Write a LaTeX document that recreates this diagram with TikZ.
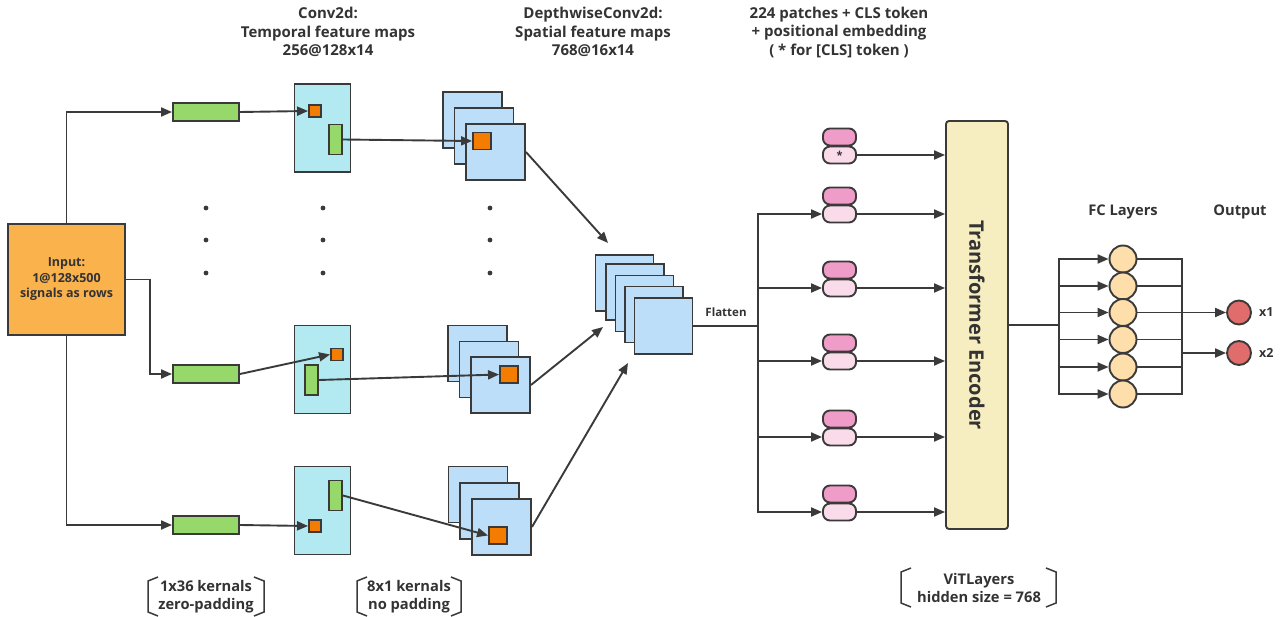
\documentclass[tikz,border=0pt]{standalone}
\usepackage{fontspec}
\setmainfont{Open Sans}
\usetikzlibrary{arrows.meta}
\definecolor{ln}{HTML}{3A3A3A}
\definecolor{txt}{HTML}{333333}
\definecolor{inor}{HTML}{FAB24C}
\definecolor{gbar}{HTML}{96D86A}
\definecolor{cmap}{HTML}{B3EAF2}
\definecolor{dmap}{HTML}{BDDEF8}
\definecolor{osq}{HTML}{F47C00}
\definecolor{tokp}{HTML}{F09CC8}
\definecolor{tokl}{HTML}{FADBEA}
\definecolor{tenc}{HTML}{F6EDC0}
\definecolor{fcc}{HTML}{FEDEAA}
\definecolor{outc}{HTML}{E06C6C}
\tikzset{
  box/.style={draw=ln, line width=1.9pt, inner sep=0pt},
  inbox/.style={box, fill=inor, minimum width=117pt, minimum height=111pt, text=txt, align=center,
     font=\bfseries\fontsize{12.5}{15.5}\selectfont},
  greenbar/.style={box, fill=gbar, minimum width=66pt, minimum height=18pt},
  vbar/.style={box, fill=gbar, minimum width=13pt, minimum height=30pt},
  cmapbox/.style={box, fill=cmap, minimum width=56pt, minimum height=88pt},
  dmapbox/.style={box, fill=dmap, minimum width=59pt, minimum height=56pt},
  smallsq/.style={box, fill=osq, minimum width=12pt, minimum height=12pt},
  bigsq/.style={box, fill=osq, minimum width=18pt, minimum height=17pt},
  tokpink/.style={box, fill=tokp, minimum width=33pt, minimum height=17pt, rounded corners=7pt},
  toklight/.style={box, fill=tokl, minimum width=33pt, minimum height=17pt, rounded corners=7pt,
     font=\bfseries\fontsize{11}{11}\selectfont, text=txt},
  encbox/.style={box, fill=tenc, minimum width=62pt, minimum height=408pt, rounded corners=3pt},
  fcnode/.style={box, circle, fill=fcc, minimum size=27pt},
  outnode/.style={box, circle, fill=outc, minimum size=24pt},
  conn/.style={draw=ln, line width=1.9pt},
  arr/.style={conn, -{Triangle[length=11pt,width=9pt]}},
  lab/.style={text=txt, align=center, inner sep=0pt, font=\bfseries\fontsize{15}{18.5}\selectfont},
  blab/.style={text=txt, align=center, inner sep=0pt, font=\bfseries\fontsize{14.7}{18}\selectfont},
  smalllab/.style={text=txt, align=center, inner sep=0pt, font=\bfseries\fontsize{12.5}{15}\selectfont},
  brk/.style={draw=ln, line width=1.5pt},
  dot/.style={fill=ln}
}
\begin{document}
\begin{tikzpicture}[x=1pt,y=-1pt]
\useasboundingbox (0,0) rectangle (1284,617);

% top labels
\node[lab] (l1) at (328,32) {Conv2d:\\Temporal feature maps\\256@128x14};
\node[lab] (l2) at (593,32) {DepthwiseConv2d:\\Spatial feature maps\\768@16x14};
\node[lab] (l3) at (839,32) {224 patches + CLS token\\+ positional embedding\\( * for [CLS] token )};

% input
\node[inbox] (in) at (66.5,279.5) {Input:\\1@128x500\\signals as rows};

% green bars
\node[greenbar] (g1) at (206,112) {};
\node[greenbar] (g2) at (206,374) {};
\node[greenbar] (g3) at (206,525) {};

% conv maps
\node[cmapbox] (m1) at (322.5,128) {};
\node[cmapbox] (m2) at (322.5,369.5) {};
\node[cmapbox] (m3) at (322.5,510.5) {};
\node[smallsq] (q1) at (315,111) {};
\node[smallsq] (q2) at (337,354.5) {};
\node[smallsq] (q3) at (315,526) {};
\node[vbar] (v1) at (335.5,139.5) {};
\node[vbar] (v2) at (311.5,380) {};
\node[vbar] (v3) at (335.5,495.5) {};

% depthwise stacks
\node[dmapbox] (a1) at (472.5,120) {};
\node[dmapbox] (a2) at (484,136) {};
\node[dmapbox] (a3) at (495.5,152) {};
\node[bigsq] (ao) at (482,141) {};
\node[dmapbox] (b1) at (477.5,353.5) {};
\node[dmapbox] (b2) at (489,369.5) {};
\node[dmapbox] (b3) at (500.5,385) {};
\node[bigsq] (bo) at (509,374.5) {};
\node[dmapbox] (c1) at (478,494.5) {};
\node[dmapbox] (c2) at (489.5,511) {};
\node[dmapbox] (c3) at (501.5,527) {};
\node[bigsq] (co) at (498,535.5) {};

% dots
\foreach \x in {206,323,490}{
  \foreach \y in {208,240,273}{
    \fill[dot] (\x,\y) circle (2.4pt);
  }
}

% center stack
\node[dmapbox, minimum width=58pt] (s1) at (624.5,283) {};
\node[dmapbox, minimum width=58pt] (s2) at (635,292) {};
\node[dmapbox, minimum width=58pt] (s3) at (644.5,303.5) {};
\node[dmapbox, minimum width=58pt] (s4) at (654,314.5) {};
\node[dmapbox, minimum width=58pt] (s5) at (663.5,326) {};
\node[text=txt, inner sep=0pt, font=\bfseries\fontsize{11.5}{11.5}\selectfont] (fl) at (726,312) {Flatten};

% input connectors
\draw[arr] (in.north) |- (g1.west);
\draw[arr] (in.east) -- ++(24,0) |- (g2.west);
\draw[arr] (in.south) |- (g3.west);

% bar -> map
\draw[arr] (g1.east) -- (q1.west);
\draw[arr] (g2.east) -- (q2.west);
\draw[arr] (g3.east) -- (q3.west);

% map -> depthwise
\draw[arr] (v1.east) -- (ao.west);
\draw[arr] (v2.east) -- (bo.west);
\draw[arr] (v3.east) -- (co.west);

% stacks -> center
\coordinate (t1) at (608,243);
\coordinate (t2) at (603,327);
\coordinate (t3) at (628,363);
\draw[arr] (a3.east) -- (t1);
\draw[arr] (b3.east) -- (t2);
\draw[arr] (c3.east) -- (t3);

% tokens
\node[encbox] (tr) at (977,325) {};
\node[rotate=-90, text=txt, inner sep=0pt, font=\bfseries\fontsize{20}{20}\selectfont] (trt) at (tr.center) {Transformer Encoder};

\node[tokpink] (p1) at (839.5,137) {};
\node[toklight] (k1) at (839.5,155) {*};
\foreach \i/\c in {2/214,3/288,4/361,5/437,6/512}{
  \node[tokpink] (p\i) at (839.5,\c-18) {};
  \node[toklight] (k\i) at (839.5,\c) {};
}
\coordinate (b0) at (758,326);
\draw[conn] (s5.east) -- (b0);
\foreach \i in {2,...,6}{
  \draw[arr] (b0) |- (k\i.west);
}
\foreach \i in {1,...,6}{
  \draw[arr] (k\i.east) -- (k\i.east -| tr.west);
}

% FC layers
\node[blab] (fcl) at (1123,212) {FC Layers};
\node[blab] (outl) at (1240,212) {Output};
\foreach \i/\y in {1/259,2/286,3/312.5,4/339.5,5/367,6/394}{
  \node[fcnode] (f\i) at (1123,\y) {};
}
\coordinate (f0) at (1059,325);
\draw[conn] (tr.east) -- (f0);
\foreach \i in {1,...,6}{
  \draw[arr] (f0) |- (f\i.west);
}
\coordinate (r0) at (1182,312.5);
\foreach \i in {1,...,6}{
  \draw[conn] (f\i.east) -| (r0);
}
\node[outnode] (o1) at (1239,312.5) {};
\node[outnode] (o2) at (1239,353) {};
\draw[arr] (r0) -- (o1.west);
\draw[arr] (r0) |- (o2.west);
\node[smalllab, anchor=west] (x1) at (1259,312.5) {x1};
\node[smalllab, anchor=west] (x2) at (1259,353) {x2};

% bottom brackets
\node[blab] (k36) at (206,597) {1x36 kernals\\zero-padding};
\draw[brk] (158,577) -- (148,581) -- (148,612) -- (158,616);
\draw[brk] (254,577) -- (264,581) -- (264,612) -- (254,616);
\node[blab] (k81) at (409,597) {8x1 kernals\\no padding};
\draw[brk] (367,577) -- (357,581) -- (357,612) -- (367,616);
\draw[brk] (451,577) -- (461,581) -- (461,612) -- (451,616);
\node[blab] (vit) at (979,588) {ViTLayers\\hidden size = 768};
\draw[brk] (911,568) -- (901,572) -- (901,603) -- (911,607);
\draw[brk] (1046,568) -- (1056,572) -- (1056,603) -- (1046,607);
\end{tikzpicture}
\end{document}
